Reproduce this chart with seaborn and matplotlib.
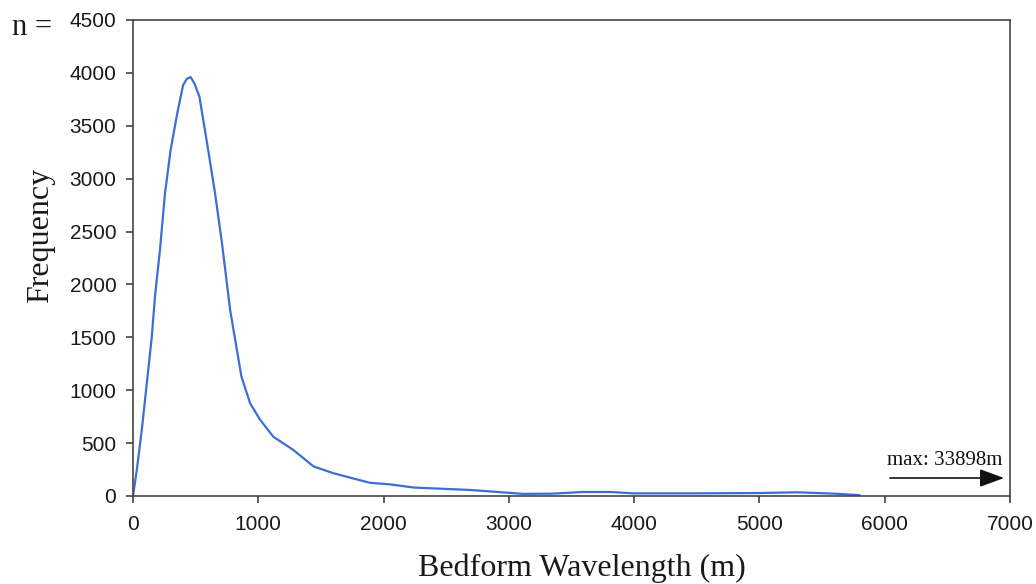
import matplotlib
matplotlib.use("Agg")
import matplotlib.pyplot as plt
import seaborn as sns
import pandas as pd

wavelength = [0, 30, 70, 110, 150, 175, 215, 255, 300, 355, 400, 430, 460, 490, 530,
              600, 655, 710, 775, 865, 935, 1015, 1120, 1280, 1440, 1600, 1760, 1890,
              2050, 2240, 2690, 2980, 3110, 3350, 3590, 3810, 3990, 4500, 5000, 5300,
              5600, 5800]
frequency = [0, 245, 625, 1065, 1505, 1885, 2325, 2860, 3270, 3630, 3885, 3945, 3960,
             3900, 3775, 3270, 2860, 2390, 1760, 1130, 875, 720, 560, 435, 280, 215,
             165, 125, 110, 80, 57, 32, 20, 22, 38, 38, 25, 25, 28, 35, 22, 8]
x_ticks = [0, 1000, 2000, 3000, 4000, 5000, 6000, 7000]
y_ticks = [0, 500, 1000, 1500, 2000, 2500, 3000, 3500, 4000, 4500]

df = pd.DataFrame({"Wavelength": wavelength, "Frequency": frequency})

sns.set_style("white")
plt.rcParams["font.family"] = ["Liberation Sans", "DejaVu Sans"]

fig = plt.figure(figsize=(10.36, 5.84), dpi=100)
ax = fig.add_axes([0.1284, 0.1507, 0.9749 - 0.1284, 0.9658 - 0.1507])

sns.lineplot(data=df, x="Wavelength", y="Frequency", ax=ax, color="#3b6fd6",
             linewidth=1.6)

ax.set_xlim(0, 7000)
ax.set_ylim(0, 4500)
ax.set_xticks(x_ticks)
ax.set_yticks(y_ticks)
ax.tick_params(bottom=True, left=True, direction="out", length=5, width=1.1,
               colors="#333333", labelsize=15, labelcolor="#1a1a1a")
ax.tick_params(axis="y", pad=7)
ax.tick_params(axis="x", pad=9)
for sp in ax.spines.values():
    sp.set_color("#444444")
    sp.set_linewidth(1.2)

serif = ["Liberation Serif", "DejaVu Serif"]
ax.set_xlabel("Bedform Wavelength (m)", family=serif, fontsize=23, color="#1a1a1a")
ax.set_ylabel("Frequency", family=serif, fontsize=23, color="#1a1a1a")
ax.xaxis.set_label_coords(0.512, -0.152)
ax.yaxis.set_label_coords(-0.105, 0.548)
ax.xaxis.label.set_va("center")
ax.yaxis.label.set_va("center")

ax.text(-0.138, 0.985, "n =", transform=ax.transAxes, family=serif, fontsize=22,
        color="#1a1a1a", ha="left", va="center")

ax.annotate("", xy=(6975, 170), xytext=(6020, 170),
            arrowprops=dict(arrowstyle="-|>,head_length=1.5,head_width=0.55",
                            color="#111111", lw=1.2))
ax.text(6018, 290, "max: 33898m", family=serif, fontsize=15, color="#111111",
        ha="left", va="baseline")

fig.savefig("out.png", dpi=100)
